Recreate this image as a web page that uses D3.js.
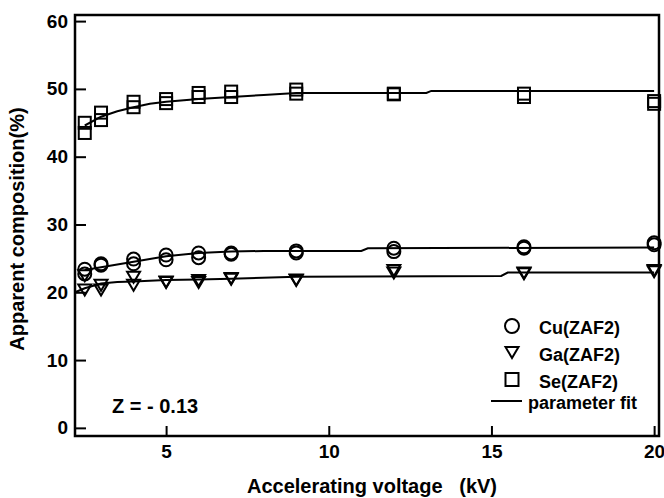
<!DOCTYPE html>
<html>
<head>
<meta charset="utf-8">
<script src="https://cdn.jsdelivr.net/npm/d3@7"></script>
<style>
  body { margin: 0; background: #fff; }
  text { font-family: "Liberation Sans", Arial, sans-serif; font-weight: bold; fill: #000; }
</style>
</head>
<body>
<div id="chart"></div>
<script>
// accelerating voltages (kV), two measurements per voltage
const voltages = [2.5, 3, 4, 5, 6, 7, 9, 12, 16, 20];

const cuRunA = [23.4, 24.0, 24.9, 25.5, 25.8, 25.8, 26.1, 26.5, 26.7, 27.3];
const cuRunB = [22.7, 24.2, 24.2, 24.8, 25.1, 25.6, 25.8, 26.0, 26.5, 27.0];
const gaRunA = [22.5, 21.1, 22.3, 21.5, 21.8, 22.1, 21.8, 23.3, 22.9, 23.3];
const gaRunB = [20.4, 20.4, 21.1, 21.6, 21.5, 22.0, 21.9, 22.9, 22.8, 23.1];
const seRunA = [45.0, 46.5, 48.1, 48.5, 49.4, 49.6, 49.9, 49.3, 49.3, 48.2];
const seRunB = [43.5, 45.4, 47.3, 47.9, 48.8, 48.8, 49.3, 49.2, 48.8, 47.8];

// parameter fit curves
const seFitV = [2.5, 3, 3.5, 4, 4.5, 5, 6, 7, 8, 9, 13, 13.15, 20];
const seFit  = [44.6, 45.9, 46.7, 47.3, 47.8, 48.1, 48.5, 48.8, 49.1, 49.4, 49.4, 49.7, 49.7];
const cuFitV = [2.5, 3, 4, 5, 6, 7, 8, 11, 11.2, 20];
const cuFit  = [23.3, 23.7, 24.5, 25.3, 25.8, 26.0, 26.1, 26.1, 26.5, 26.6];
const gaFitV = [2.2, 2.5, 3, 3.5, 4, 5, 6, 7, 9, 15.3, 15.5, 20];
const gaFit  = [20.0, 20.6, 21.3, 21.5, 21.6, 21.8, 21.9, 22.0, 22.3, 22.4, 22.9, 22.9];

const xTicks = [5, 10, 15, 20];
const yTicks = [0, 10, 20, 30, 40, 50, 60];

const width = 664;
const height = 498;
const margin = {top: 15, right: 5, bottom: 62, left: 75};

const svg = d3.select("#chart")
  .append("svg")
    .attr("width", width)
    .attr("height", height);

const xScale = d3.scaleLinear()
  .domain([2.2, 20.15])
  .range([margin.left, width - margin.right]);

const yScale = d3.scaleLinear()
  .domain([-1.2, 60.9])
  .range([height - margin.bottom, margin.top]);

// axes, ticks pointing inward
const bottomAxis = d3.axisBottom(xScale)
  .tickValues(xTicks)
  .tickSize(-10)
  .tickSizeOuter(0)
  .tickPadding(6);
const gx = svg.append("g")
  .attr("transform", `translate(0, ${height - margin.bottom})`)
  .call(bottomAxis);

const leftAxis = d3.axisLeft(yScale)
  .tickValues(yTicks)
  .tickSize(-11)
  .tickSizeOuter(0)
  .tickPadding(7);
const gy = svg.append("g")
  .attr("transform", `translate(${margin.left}, 0)`)
  .call(leftAxis);

[gx, gy].forEach(g => {
  g.select(".domain").remove();
  g.selectAll("line").attr("stroke", "#000").attr("stroke-width", 2);
  g.selectAll("text").style("font-size", "19px");
});
gx.selectAll("text").attr("y", 8).attr("dy", "0.75em");

// frame
svg.append("rect")
  .attr("x", margin.left)
  .attr("y", margin.top)
  .attr("width", width - margin.left - margin.right)
  .attr("height", height - margin.top - margin.bottom)
  .attr("fill", "none")
  .attr("stroke", "#000")
  .attr("stroke-width", 2.5);

// fit lines
const line = d3.line()
  .x(d => xScale(d[0]))
  .y(d => yScale(d[1]));
[[seFitV, seFit], [cuFitV, cuFit], [gaFitV, gaFit]].forEach(([vs, ys]) => {
  svg.append("path")
    .attr("d", line(vs.map((v, i) => [v, ys[i]])))
    .attr("fill", "none")
    .attr("stroke", "#000")
    .attr("stroke-width", 2);
});

// marker helpers
const triPath = (cx, cy) => `M${cx - 6.5},${cy - 5}L${cx + 6.5},${cy - 5}L${cx},${cy + 6}Z`;

const drawCircles = (vals) => {
  svg.append("g").selectAll("circle")
    .data(vals.map((v, i) => [voltages[i], v]))
    .join("circle")
      .attr("cx", d => xScale(d[0]))
      .attr("cy", d => yScale(d[1]))
      .attr("r", 6.5)
      .attr("fill", "none")
      .attr("stroke", "#000")
      .attr("stroke-width", 2);
};
const drawTriangles = (vals) => {
  svg.append("g").selectAll("path")
    .data(vals.map((v, i) => [voltages[i], v]))
    .join("path")
      .attr("d", d => triPath(xScale(d[0]), yScale(d[1])))
      .attr("fill", "none")
      .attr("stroke", "#000")
      .attr("stroke-width", 2);
};
const drawSquares = (vals) => {
  svg.append("g").selectAll("rect")
    .data(vals.map((v, i) => [voltages[i], v]))
    .join("rect")
      .attr("x", d => xScale(d[0]) - 6)
      .attr("y", d => yScale(d[1]) - 6)
      .attr("width", 12)
      .attr("height", 12)
      .attr("fill", "none")
      .attr("stroke", "#000")
      .attr("stroke-width", 2);
};

drawCircles(cuRunA);
drawCircles(cuRunB);
drawTriangles(gaRunA);
drawTriangles(gaRunB);
drawSquares(seRunA);
drawSquares(seRunB);

// legend
const legend = svg.append("g");
legend.append("circle")
  .attr("cx", 512).attr("cy", 326).attr("r", 7)
  .attr("fill", "none").attr("stroke", "#000").attr("stroke-width", 2);
legend.append("path")
  .attr("d", triPath(512, 352))
  .attr("fill", "none").attr("stroke", "#000").attr("stroke-width", 2);
legend.append("rect")
  .attr("x", 505.5).attr("y", 373).attr("width", 13).attr("height", 13)
  .attr("fill", "none").attr("stroke", "#000").attr("stroke-width", 2);
legend.append("line")
  .attr("x1", 491).attr("x2", 522).attr("y1", 401).attr("y2", 401)
  .attr("stroke", "#000").attr("stroke-width", 2);

const legendLabels = [
  {text: "Cu(ZAF2)", x: 539, y: 329},
  {text: "Ga(ZAF2)", x: 539, y: 356},
  {text: "Se(ZAF2)", x: 539, y: 383},
  {text: "parameter fit", x: 528, y: 404}
];
legend.selectAll("text")
  .data(legendLabels)
  .join("text")
    .attr("x", d => d.x)
    .attr("y", d => d.y)
    .attr("dominant-baseline", "middle")
    .style("font-size", "18px")
    .text(d => d.text);

svg.append("text")
  .attr("x", 112)
  .attr("y", 408)
  .attr("dominant-baseline", "middle")
  .style("font-size", "20px")
  .text("Z = - 0.13");

// axis titles
svg.append("text")
  .attr("x", 372)
  .attr("y", 493)
  .attr("text-anchor", "middle")
  .style("font-size", "20px")
  .attr("xml:space", "preserve")
  .text("Accelerating voltage   (kV)");

svg.append("text")
  .attr("transform", "translate(19, 229) rotate(-90)")
  .attr("text-anchor", "middle")
  .attr("dominant-baseline", "middle")
  .style("font-size", "20px")
  .text("Apparent composition(%)");
</script>
</body>
</html>
